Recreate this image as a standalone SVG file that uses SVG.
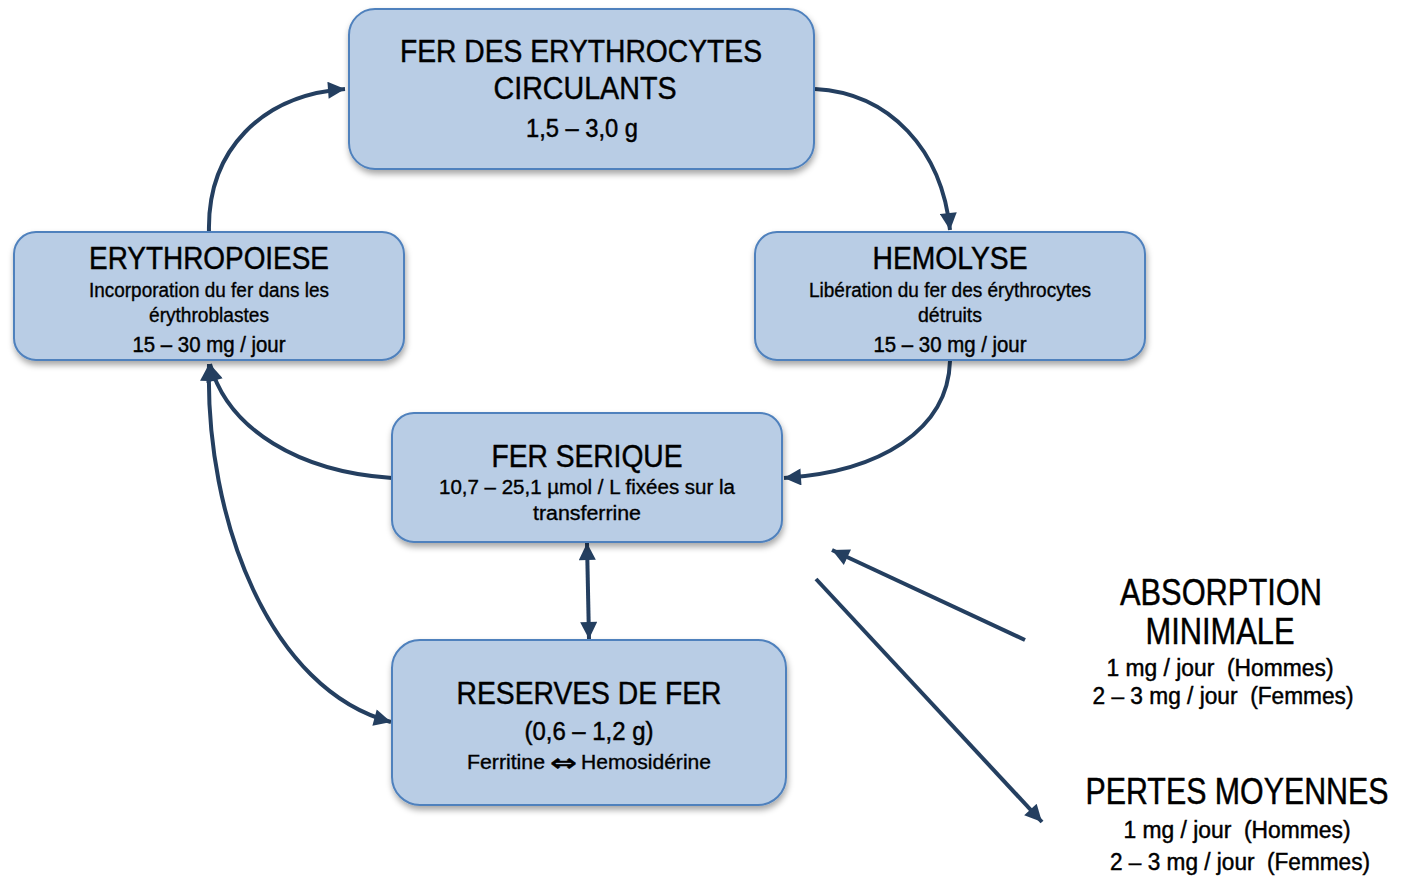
<svg xmlns="http://www.w3.org/2000/svg" width="1405" height="877" viewBox="0 0 1405 877">
<defs>
<filter id="sh" x="-10%" y="-10%" width="120%" height="130%">
<feDropShadow dx="1" dy="4" stdDeviation="3" flood-color="#000" flood-opacity="0.35"/>
</filter>
<marker id="ah" viewBox="0 0 10 10" markerWidth="18" markerHeight="17" refX="10" refY="5" orient="auto-start-reverse" markerUnits="userSpaceOnUse">
<path d="M0,0 L10,5 L0,10 z" fill="#243F60"/>
</marker>
</defs>
<style>
.box{fill:#B9CDE5;stroke:#4F81BD;stroke-width:2;filter:url(#sh)}
text{font-family:"Liberation Sans",Arial,sans-serif;fill:#000;stroke:#000;stroke-width:0.45;text-anchor:middle}
.t{font-size:32px}
.s{font-size:20px;stroke-width:0.35}
.m{font-size:22px}
.v{font-size:25px}
.bt{font-size:36px}
.bl{font-size:23px}
.sym{font-family:"DejaVu Sans",sans-serif;font-size:24px;font-weight:bold}
.c{fill:none;stroke:#243F60;stroke-width:4}
</style>
<rect width="1405" height="877" fill="#fff"/>
<g id="connectors">
<path class="c" d="M209,232 C207,150 262,95 345,89" marker-end="url(#ah)"/>
<path class="c" d="M815,89 C890,93 942,150 950,230" marker-end="url(#ah)"/>
<path class="c" d="M950,361 C948,430 880,472 784,478" marker-end="url(#ah)"/>
<path class="c" d="M392,478 C300,472 228,430 210,364" marker-end="url(#ah)"/>
<path class="c" d="M209,364 C205,520 270,690 391,722" marker-start="url(#ah)" marker-end="url(#ah)"/>
<path class="c" d="M587,543 L589,639" marker-start="url(#ah)" marker-end="url(#ah)"/>
<path class="c" d="M1025,640 L832,550" marker-end="url(#ah)"/>
<path class="c" d="M816,579 L1042,822" marker-end="url(#ah)"/>
</g>
<g id="erythrocytes">
<rect class="box" x="349" y="9" width="465" height="160" rx="26"/>
<text class="t" x="581" y="62" textLength="362" lengthAdjust="spacingAndGlyphs">FER DES ERYTHROCYTES</text>
<text class="t" x="585" y="99" textLength="183" lengthAdjust="spacingAndGlyphs">CIRCULANTS</text>
<text class="v" x="582" y="137" textLength="112" lengthAdjust="spacingAndGlyphs">1,5 – 3,0 g</text>
</g>
<g id="erythropoiese">
<rect class="box" x="14" y="232" width="390" height="128" rx="22"/>
<text class="t" x="209" y="269" textLength="240" lengthAdjust="spacingAndGlyphs">ERYTHROPOIESE</text>
<text class="s" x="209" y="297" textLength="240" lengthAdjust="spacingAndGlyphs">Incorporation du fer dans les</text>
<text class="s" x="209" y="322" textLength="120" lengthAdjust="spacingAndGlyphs">érythroblastes</text>
<text class="m" x="209" y="352" textLength="153" lengthAdjust="spacingAndGlyphs">15 – 30 mg / jour</text>
</g>
<g id="hemolyse">
<rect class="box" x="755" y="232" width="390" height="128" rx="22"/>
<text class="t" x="950" y="269" textLength="155" lengthAdjust="spacingAndGlyphs">HEMOLYSE</text>
<text class="s" x="950" y="297" textLength="282" lengthAdjust="spacingAndGlyphs">Libération du fer des érythrocytes</text>
<text class="s" x="950" y="322" textLength="64" lengthAdjust="spacingAndGlyphs">détruits</text>
<text class="m" x="950" y="352" textLength="153" lengthAdjust="spacingAndGlyphs">15 – 30 mg / jour</text>
</g>
<g id="fer-serique">
<rect class="box" x="392" y="413" width="390" height="129" rx="22"/>
<text class="t" x="587" y="467" textLength="191" lengthAdjust="spacingAndGlyphs">FER SERIQUE</text>
<text class="s" x="587" y="494" textLength="296" lengthAdjust="spacingAndGlyphs">10,7 – 25,1 µmol / L fixées sur la</text>
<text class="s" x="587" y="520" textLength="108" lengthAdjust="spacingAndGlyphs">transferrine</text>
</g>
<g id="reserves">
<rect class="box" x="392" y="640" width="394" height="165" rx="28"/>
<text class="t" x="589" y="704" textLength="265" lengthAdjust="spacingAndGlyphs">RESERVES DE FER</text>
<text class="v" x="589" y="740" textLength="129" lengthAdjust="spacingAndGlyphs">(0,6 – 1,2 g)</text>
<text class="s" y="769" style="text-anchor:start"><tspan x="467" textLength="78" lengthAdjust="spacingAndGlyphs">Ferritine</tspan><tspan class="sym" x="550" y="771" textLength="27" lengthAdjust="spacingAndGlyphs">⇔</tspan><tspan x="581" y="769" textLength="130" lengthAdjust="spacingAndGlyphs">Hemosidérine</tspan></text>
</g>
<g id="absorption">
<text class="bt" x="1221" y="605" textLength="202" lengthAdjust="spacingAndGlyphs">ABSORPTION</text>
<text class="bt" x="1220" y="644" textLength="149" lengthAdjust="spacingAndGlyphs">MINIMALE</text>
<text class="bl" x="1220" y="676" textLength="227" lengthAdjust="spacingAndGlyphs" xml:space="preserve">1 mg / jour  (Hommes)</text>
<text class="bl" x="1223" y="704" textLength="261" lengthAdjust="spacingAndGlyphs" xml:space="preserve">2 – 3 mg / jour  (Femmes)</text>
</g>
<g id="pertes">
<text class="bt" x="1237" y="804" textLength="303" lengthAdjust="spacingAndGlyphs">PERTES MOYENNES</text>
<text class="bl" x="1237" y="838" textLength="227" lengthAdjust="spacingAndGlyphs" xml:space="preserve">1 mg / jour  (Hommes)</text>
<text class="bl" x="1240" y="870" textLength="260" lengthAdjust="spacingAndGlyphs" xml:space="preserve">2 – 3 mg / jour  (Femmes)</text>
</g>
</svg>
